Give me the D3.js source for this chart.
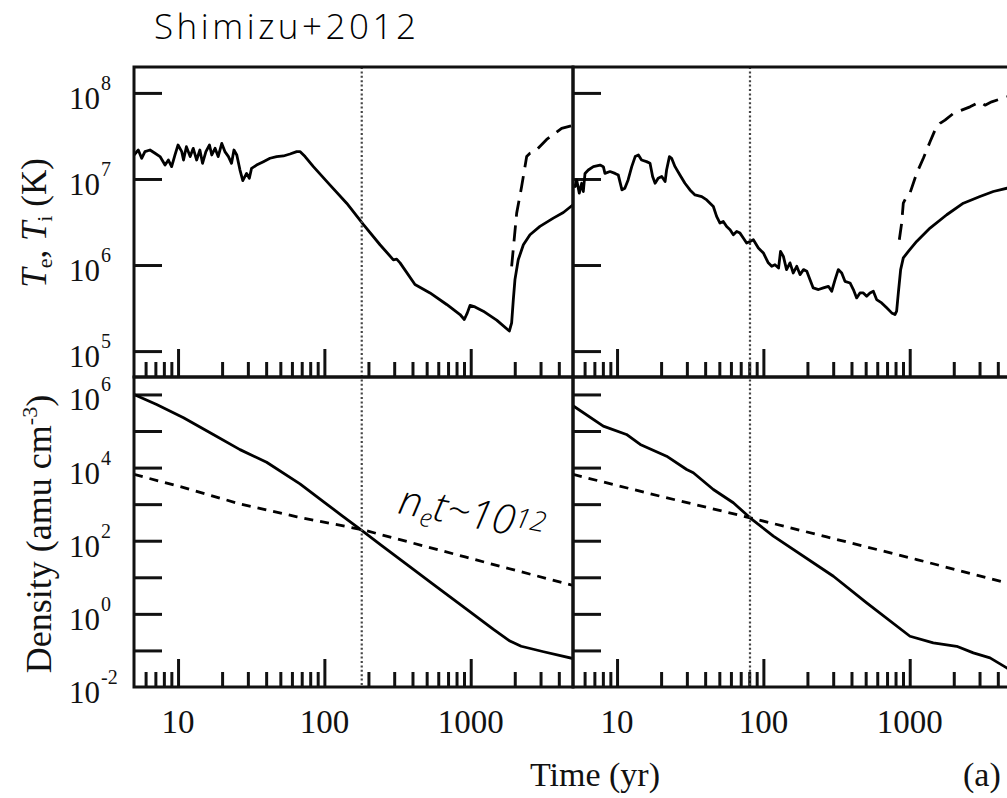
<!DOCTYPE html>
<html>
<head>
<meta charset="utf-8">
<script src="https://cdn.jsdelivr.net/npm/d3@7"></script>
<style>
  html, body { margin: 0; padding: 0; background: #fff; overflow: hidden; }
  svg { display: block; }
</style>
</head>
<body>
<svg id="chart" width="1007" height="798"></svg>
<script>
// ---------- Time axis ticks (yr) ----------
const timeMajorTicks = [10, 100, 1000];
const timeMinorTicks = [6, 7, 8, 9, 20, 30, 40, 50, 60, 70, 80, 90,
  200, 300, 400, 500, 600, 700, 800, 900, 2000, 3000, 4000];
const timeTickLabels = ["10", "100", "1000"];

// ---------- Temperature axis ticks (K) ----------
const tempTicks = [1e5, 1e6, 1e7, 1e8];
const tempTickExponents = ["5", "6", "7", "8"];

// ---------- Density axis ticks (amu cm^-3) ----------
const densTicks = [1e-1, 1, 1e1, 1e2, 1e3, 1e4, 1e5, 1e6];
const densLabelValues = [1e-2, 1, 1e2, 1e4, 1e6];
const densTickExponents = ["-2", "0", "2", "4", "6"];

// ---------- Model (a), left column: electron temperature ----------
const leftTeTime = [5, 5.35, 5.64, 5.94, 6.43, 6.96, 7.53, 8.15, 8.59, 9.04, 9.53, 10.0,
  10.6, 10.9, 11.4, 12.1, 12.7, 13.4, 14.1, 14.7, 15.5, 16.4, 17.0, 17.9, 18.8, 19.9,
  20.9, 22.1, 23.2, 24.1, 25.2, 26.5, 27.7, 29.4, 30.7, 31.8, 34.4, 38.3, 42.5, 47.2,
  52.5, 58.2, 64.7, 68.1, 73.8, 84.1, 109, 142, 185, 240, 296, 312, 329, 416, 527,
  685, 845, 904, 948, 989, 1070, 1218, 1504, 1836, 1904, 1955, 2006, 2112, 2290,
  2541, 2972, 3669, 4296, 5000];
const leftTe = [1.90e7, 2.17e7, 1.74e7, 2.08e7, 2.17e7, 1.99e7, 1.82e7, 1.45e7, 1.66e7,
  1.39e7, 1.90e7, 2.48e7, 2.08e7, 1.66e7, 2.37e7, 1.82e7, 2.27e7, 1.66e7, 2.17e7,
  1.52e7, 2.08e7, 2.48e7, 1.90e7, 2.27e7, 1.82e7, 2.59e7, 2.08e7, 1.82e7, 1.52e7,
  2.17e7, 1.90e7, 1.27e7, 9.58e6, 1.16e7, 1.02e7, 1.33e7, 1.45e7, 1.59e7, 1.74e7,
  1.82e7, 1.85e7, 1.95e7, 2.08e7, 2.08e7, 1.82e7, 1.39e7, 8.53e6, 5.23e6, 2.94e6,
  1.72e6, 1.15e6, 1.17e6, 1.06e6, 5.93e5, 4.74e5, 3.48e5, 2.66e5, 2.33e5, 2.78e5,
  3.39e5, 3.26e5, 2.91e5, 2.29e5, 1.71e5, 2.13e5, 3.97e5, 6.77e5, 1.15e6, 1.72e6,
  2.25e6, 2.81e6, 3.51e6, 4.08e6, 5.01e6];

// ---------- Model (a), left column: ion temperature ----------
const leftTiTime = [1904, 2061, 2228, 2412, 2541, 2748, 3304, 4181, 5000];
const leftTi = [9.67e5, 4.01e6, 8.17e6, 1.82e7, 1.99e7, 2.08e7, 2.88e7, 3.87e7, 4.2e7];

// ---------- Model (a), right column: electron temperature ----------
const rightTeTime = [5, 5.17, 5.30, 5.52, 5.73, 5.88, 6.04, 6.36, 6.89, 7.65, 8.06, 8.27,
  8.95, 9.69, 10.2, 10.8, 11.3, 11.9, 12.6, 13.3, 14.0, 14.7, 15.9, 16.8, 17.5, 18.2,
  19.1, 20.2, 21.3, 21.8, 22.8, 23.6, 24.9, 26.9, 29.1, 31.5, 34.1, 37.9, 41.0, 45.5,
  47.9, 50.5, 53.2, 56.1, 59.2, 62.3, 65.7, 69.2, 72.9, 76.8, 81.1, 85.4, 92.4, 100,
  108, 114, 120, 127, 131, 137, 144, 152, 160, 169, 178, 188, 198, 208, 219, 238, 257,
  278, 293, 309, 325, 343, 361, 391, 412, 434, 457, 482, 508, 535, 564, 594, 643, 696,
  753, 793, 814, 836, 867, 904, 979, 1115, 1377, 1791, 2325, 3020, 3727, 4624, 5000];
const rightTe = [8.5e6, 8.17e6, 9.75e6, 6.84e6, 8.92e6, 7.15e6, 1.16e7, 1.27e7, 1.39e7,
  1.45e7, 1.39e7, 1.16e7, 1.22e7, 1.16e7, 1.11e7, 7.46e6, 7.81e6, 9.75e6, 1.39e7,
  1.82e7, 1.90e7, 1.66e7, 1.59e7, 1.52e7, 1.07e7, 8.92e6, 1.02e7, 1.07e7, 9.33e6,
  1.27e7, 1.82e7, 1.74e7, 1.39e7, 1.11e7, 8.92e6, 7.46e6, 6.53e6, 6.25e6, 5.71e6,
  4.79e6, 3.67e6, 3.07e6, 3.21e6, 2.80e6, 2.57e6, 2.25e6, 2.46e6, 2.35e6, 2.06e6,
  1.80e6, 1.88e6, 1.97e6, 1.58e6, 1.38e6, 1.06e6, 9.67e5, 1.01e6, 9.24e5, 1.44e6,
  1.26e6, 8.85e5, 1.06e6, 8.09e5, 9.67e5, 7.74e5, 8.85e5, 8.45e5, 6.77e5, 5.42e5,
  5.19e5, 5.42e5, 5.66e5, 4.96e5, 6.77e5, 8.85e5, 8.09e5, 6.47e5, 6.19e5, 5.19e5,
  4.15e5, 4.74e5, 4.74e5, 4.34e5, 4.74e5, 4.96e5, 3.97e5, 3.63e5, 3.18e5, 2.78e5,
  2.66e5, 2.91e5, 4.74e5, 8.85e5, 1.21e6, 1.44e6, 1.88e6, 2.69e6, 3.84e6, 5.23e6,
  6.25e6, 7.15e6, 7.81e6, 8.0e6];

// ---------- Model (a), right column: ion temperature ----------
const rightTiTime = [849, 881, 904, 952, 1004, 1115, 1239, 1377, 1489, 1610, 1742, 1986,
  2265, 2582, 3020, 3273, 3631, 4624, 5000];
const rightTi = [1.97e6, 3.07e6, 5.23e6, 6.25e6, 6.84e6, 1.16e7, 1.74e7, 2.71e7, 3.70e7,
  4.42e7, 4.83e7, 5.77e7, 6.31e7, 6.89e7, 7.87e7, 7.21e7, 7.87e7, 9.0e7, 9.4e7];

// ---------- Left column: ejecta density (solid) ----------
const leftDensTime = [5, 7.14, 10.9, 17.4, 26.5, 40.3, 68.1, 101, 131, 179, 244, 379, 555,
  916, 1423, 1853, 2212, 3148, 5000];
const leftDens = [1.0e6, 5.3e5, 2.3e5, 8.0e4, 3.1e4, 1.4e4, 3.6e3, 1.09e3, 494, 196, 76,
  20.3, 6.4, 1.43, 0.38, 0.18, 0.13, 0.092, 0.060];

// ---------- Left column: density with n_e t ~ 1e12 (dashed) ----------
const leftNetTime = [5, 11.1, 26.8, 64.9, 180, 379, 916, 1585, 4295, 5000];
const leftNet = [6.5e3, 2.8e3, 1.0e3, 450, 202, 92, 36, 20, 7.05, 6.0];

// ---------- Right column: ejecta density (solid) ----------
const rightDensTime = [5, 8.05, 11.6, 14.4, 21.8, 29.9, 33.2, 45.5, 62.3, 81.1, 117, 301,
  508, 1004, 1449, 2094, 2721, 3538, 4603, 5000];
const rightDens = [4.9e5, 1.36e5, 8.05e4, 4.29e4, 2.05e4, 8.87e3, 7.21e3, 2.52e3, 1.09e3,
  424, 133, 10.7, 2.0, 0.244, 0.161, 0.130, 0.0857, 0.0625, 0.0333, 0.028];

// ---------- Right column: density with n_e t ~ 1e12 (dashed) ----------
const rightNetTime = [5, 19.7, 81.1, 271, 1117, 4603, 5000];
const rightNet = [6.5e3, 1.65e3, 424, 127, 30.6, 7.05, 6.5];

// Epoch where n_e t reaches ~1e12 in each model
const netMarkTimes = [180, 81];

// ---------- Layout ----------
const frameTop = 67, frameMid = 377, frameBottom = 687;
const colEdges = [[134, 573], [573, 1012]];
const serif = "Liberation Serif, Times New Roman, serif";

const svg = d3.select("#chart");

const yTemp = d3.scaleLog().domain([5e4, 2e8]).range([frameMid, frameTop]);
const yDens = d3.scaleLog().domain([1e-2, 3e6]).range([frameBottom, frameMid]);

const columns = [
  { te: [leftTeTime, leftTe], ti: [leftTiTime, leftTi],
    dens: [leftDensTime, leftDens], net: [leftNetTime, leftNet] },
  { te: [rightTeTime, rightTe], ti: [rightTiTime, rightTi],
    dens: [rightDensTime, rightDens], net: [rightNetTime, rightNet] }
];

const defs = svg.append("defs");

columns.forEach((col, ci) => {
  const [x0, x1] = colEdges[ci];
  const x = d3.scaleLog().domain([5, 5000]).range([x0, x1]);
  const g = svg.append("g");

  const rows = [
    { y: yTemp, top: frameTop, bottom: frameMid, ticks: tempTicks,
      series: [[col.te, null], [col.ti, "16,9"]] },
    { y: yDens, top: frameMid, bottom: frameBottom, ticks: densTicks,
      series: [[col.dens, null], [col.net, "9,7"]] }
  ];

  rows.forEach((row, ri) => {
    const clipId = `clip-${ci}-${ri}`;
    defs.append("clipPath").attr("id", clipId)
      .append("rect").attr("x", x0).attr("y", row.top)
      .attr("width", x1 - x0).attr("height", row.bottom - row.top);

    // time-axis ticks along the bottom of each panel, pointing inwards
    const minorAxis = d3.axisBottom(x).tickValues(timeMinorTicks)
      .tickSize(-15).tickFormat("");
    const majorAxis = d3.axisBottom(x).tickValues(timeMajorTicks)
      .tickSize(-28).tickFormat("");
    [minorAxis, majorAxis].forEach(ax => {
      const a = g.append("g").attr("transform", `translate(0,${row.bottom})`).call(ax);
      a.select(".domain").remove();
      a.selectAll("line").attr("stroke", "#111").attr("stroke-width", 3);
    });

    // value-axis ticks along the left edge of each panel
    const yAxis = d3.axisLeft(row.y).tickValues(row.ticks).tickSize(-28).tickFormat("");
    const ya = g.append("g").attr("transform", `translate(${x0},0)`).call(yAxis);
    ya.select(".domain").remove();
    ya.selectAll("line").attr("stroke", "#111").attr("stroke-width", 3);

    // curves
    const line = d3.line().x(d => x(d[0])).y(d => row.y(d[1]));
    const cg = g.append("g").attr("clip-path", `url(#${clipId})`);
    row.series.forEach(([s, dash]) => {
      cg.append("path")
        .datum(d3.zip(s[0], s[1]))
        .attr("d", line)
        .attr("fill", "none")
        .attr("stroke", "#000")
        .attr("stroke-width", 2.8)
        .attr("stroke-linejoin", "round")
        .attr("stroke-dasharray", dash);
    });
  });

  // dotted marker for n_e t ~ 1e12
  g.append("line")
    .attr("x1", x(netMarkTimes[ci])).attr("x2", x(netMarkTimes[ci]))
    .attr("y1", frameTop).attr("y2", frameBottom)
    .attr("stroke", "#444").attr("stroke-width", 2.2)
    .attr("stroke-dasharray", "2,2.4");

  // panel frames
  [[frameTop, frameMid], [frameMid, frameBottom]].forEach(([t, b]) => {
    g.append("rect").attr("x", x0).attr("y", t)
      .attr("width", x1 - x0).attr("height", b - t)
      .attr("fill", "none").attr("stroke", "#111").attr("stroke-width", 3);
  });

  // time tick labels
  g.selectAll("text.tl").data(timeMajorTicks).join("text")
    .attr("class", "tl")
    .attr("x", d => x(d)).attr("y", 733)
    .attr("text-anchor", "middle")
    .attr("font-family", serif).attr("font-size", 33)
    .attr("fill", "#111")
    .text((d, i) => timeTickLabels[i]);
});

// power-of-ten labels on the left axis
function powerLabels(values, exps, scale) {
  values.forEach((v, i) => {
    const yv = scale(v);
    svg.append("text").attr("x", 100).attr("y", yv + 16)
      .attr("text-anchor", "end").attr("font-family", serif)
      .attr("font-size", 31).attr("fill", "#111").text("10");
    svg.append("text").attr("x", 101).attr("y", yv - 3)
      .attr("text-anchor", "start").attr("font-family", serif)
      .attr("font-size", 20).attr("fill", "#111").text(exps[i]);
  });
}
powerLabels(tempTicks, tempTickExponents, yTemp);
powerLabels(densLabelValues, densTickExponents, yDens);

// axis titles
const tTitle = svg.append("text")
  .attr("transform", "translate(46,223) rotate(-90)")
  .attr("text-anchor", "middle").attr("font-family", serif)
  .attr("font-size", 35).attr("fill", "#111");
tTitle.append("tspan").attr("font-style", "italic").text("T");
tTitle.append("tspan").attr("font-size", 22).attr("dy", 6).text("e");
tTitle.append("tspan").attr("dy", -6).text(", ");
tTitle.append("tspan").attr("font-style", "italic").text("T");
tTitle.append("tspan").attr("font-size", 22).attr("dy", 6).text("i");
tTitle.append("tspan").attr("dy", -6).text(" (K)");

const dTitle = svg.append("text")
  .attr("transform", "translate(51,534) rotate(-90)")
  .attr("text-anchor", "middle").attr("font-family", serif)
  .attr("font-size", 36).attr("fill", "#111");
dTitle.append("tspan").text("Density (amu cm");
dTitle.append("tspan").attr("font-size", 22).attr("dy", -14).text("-3");
dTitle.append("tspan").attr("dy", 14).text(")");

svg.append("text").attr("x", 595).attr("y", 786)
  .attr("text-anchor", "middle").attr("font-family", serif)
  .attr("font-size", 34).attr("fill", "#111").text("Time (yr)");
svg.append("text").attr("x", 963).attr("y", 786)
  .attr("font-family", serif).attr("font-size", 34).attr("fill", "#111").text("(a)");

// heading
svg.append("text").attr("x", 154).attr("y", 39)
  .attr("font-family", "Open Sans, Noto Sans, sans-serif")
  .attr("font-weight", 300)
  .attr("font-size", 35).attr("fill", "#000")
  .attr("textLength", 262).attr("lengthAdjust", "spacing")
  .text("Shimizu+2012");

// annotation: n_e t ~ 10^12
const note = svg.append("text")
  .attr("transform", "translate(397,513) rotate(11)")
  .attr("font-family", "Open Sans, Noto Sans, sans-serif")
  .attr("font-weight", 300).attr("font-style", "italic")
  .attr("font-size", 41).attr("fill", "#000");
note.append("tspan").text("n");
note.append("tspan").attr("font-size", 25).attr("dy", 8).text("e");
note.append("tspan").attr("dy", -8).text("t~10");
note.append("tspan").attr("font-size", 28).attr("dy", -9).text("12");
</script>
</body>
</html>
